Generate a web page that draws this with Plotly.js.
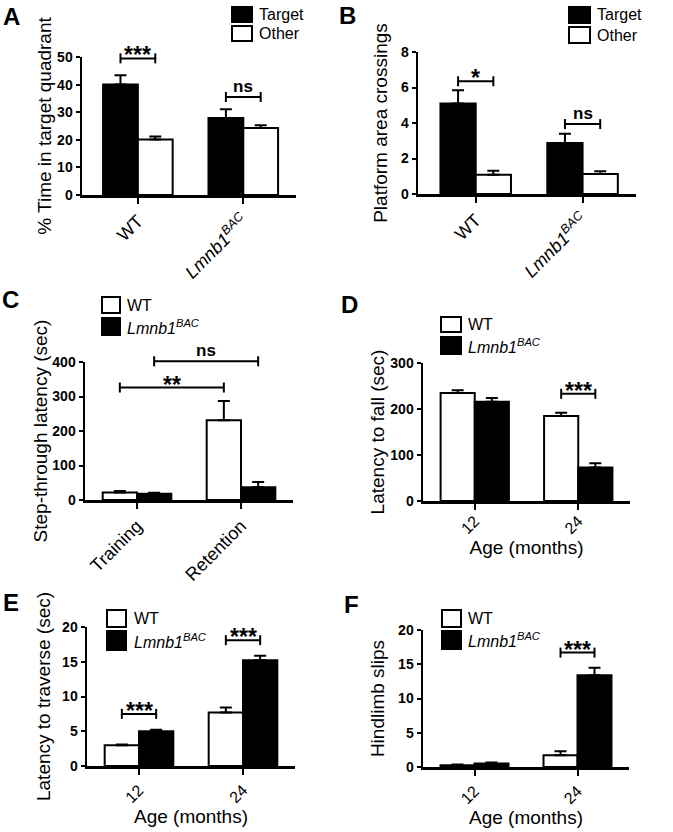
<!DOCTYPE html>
<html><head><meta charset="utf-8">
<script src="https://cdn.plot.ly/plotly-3.0.1.min.js"></script>
<style>html,body{margin:0;padding:0;background:#fff}</style>
</head><body><div id="chart" style="width:673px;height:832px"></div>
<script>
// ---------------- DATA ----------------
// Panel A: % time in target quadrant
const catsA = ['WT', '<i>Lmnb1<sup>BAC</sup></i>'];
const targetA = [40.0, 27.9];
const targetA_sem = [3.4, 3.2];
const otherA = [20.1, 24.3];
const otherA_sem = [1.1, 1.0];
// Panel B: platform area crossings
const catsB = ['WT', '<i>Lmnb1<sup>BAC</sup></i>'];
const targetB = [5.1, 2.87];
const targetB_sem = [0.75, 0.52];
const otherB = [1.08, 1.13];
const otherB_sem = [0.23, 0.15];
// Panel C: step-through latency
const catsC = ['Training', 'Retention'];
const wtC = [22, 231];
const wtC_sem = [4, 56];
const bacC = [18, 37];
const bacC_sem = [3, 15];
// Panel D: latency to fall
const ageCats = ['12', '24'];
const wtD = [235, 185];
const wtD_sem = [6, 7];
const bacD = [216, 73];
const bacD_sem = [8, 9];
// Panel E: latency to traverse
const wtE = [3.0, 7.7];
const wtE_sem = [0.1, 0.7];
const bacE = [5.0, 15.2];
const bacE_sem = [0.2, 0.65];
// Panel F: hindlimb slips
const wtF = [0.25, 1.7];
const wtF_sem = [0.1, 0.6];
const bacF = [0.5, 13.4];
const bacF_sem = [0.15, 1.1];
// significance brackets: [fromCategory, fromSeries, toCategory, toSeries, level, label]
const sigA = [[0, 0, 0, 1, 49.5, '***'], [1, 0, 1, 1, 35.5, 'ns']];
const sigB = [[0, 0, 0, 1, 6.35, '*'], [1, 0, 1, 1, 3.94, 'ns']];
const sigC = [[0, 0, 1, 0, 326, '**'], [0, 1, 1, 1, 402, 'ns']];
const sigD = [[1, 0, 1, 1, 233, '***']];
const sigE = [[0, 0, 0, 1, 7.5, '***'], [1, 0, 1, 1, 18.1, '***']];
const sigF = [[1, 0, 1, 1, 16.7, '***']];
// legend labels
const legTargetOther = ['Target', 'Other'];
const legGenotype = ['WT', '<i>Lmnb1<sup>BAC</sup></i>'];
const panelLetters = ['A', 'B', 'C', 'D', 'E', 'F'];

// ---------------- LAYOUT HELPERS ----------------
const W = 673, H = 832;
const FONT = 'Liberation Sans, Arial, Helvetica, sans-serif';
const px = x => x / W;
const py = y => 1 - y / H;
const BARGAP = 0.34;
const OFF = (1 - BARGAP) / 4; // centre offset of each bar within its group

const panels = [
  {id: '', cats: catsA, s: [[targetA, targetA_sem, 'black'], [otherA, otherA_sem, 'white']],
   dom: [82, 296, 57, 195], xr: [-0.53, 1.5], yr: [0, 50], dt: 10, ytitle: '% Time in target quadrant', so: 1, xtitle: '', xfs: 18, tls: 0, sig: sigA,
   leg: {labels: legTargetOther, fills: ['black', 'white'], box: [232, 252, 7, 22, 26, 41], tx: 257}, letter: [1, 1.5]},
  {id: '2', cats: catsB, s: [[targetB, targetB_sem, 'black'], [otherB, otherB_sem, 'white']],
   dom: [418, 636, 52, 194], xr: [-0.54, 1.5], yr: [0, 8], dt: 2, ytitle: 'Platform area crossings', so: 9, xtitle: '', xfs: 18, tls: 0, sig: sigB,
   leg: {labels: legTargetOther, fills: ['black', 'white'], box: [569, 590, 7, 23, 27, 43], tx: 595}, letter: [337, 0]},
  {id: '3', cats: catsC, s: [[wtC, wtC_sem, 'white'], [bacC, bacC_sem, 'black']],
   dom: [85, 293, 362, 500], xr: [-0.5, 1.5], yr: [0, 400], dt: 100, ytitle: 'Step-through latency (sec)', so: 0, xtitle: '', xfs: 18, tls: 0, sig: sigC,
   leg: {labels: legGenotype, fills: ['white', 'black'], box: [102, 120, 297, 313, 318, 335], tx: 125}, letter: [0, 284]},
  {id: '4', cats: ageCats, s: [[wtD, wtD_sem, 'white'], [bacD, bacD_sem, 'black']],
   dom: [423, 630, 363, 501], xr: [-0.5, 1.5], yr: [0, 300], dt: 100, ytitle: 'Latency to fall (sec)', so: 1, xtitle: 'Age (months)', xso: 0, xfs: 16, tls: -4, sig: sigD,
   leg: {labels: legGenotype, fills: ['white', 'black'], box: [441, 461, 317, 332, 337, 354], tx: 466}, letter: [339, 289]},
  {id: '5', cats: ageCats, s: [[wtE, wtE_sem, 'white'], [bacE, bacE_sem, 'black']],
   dom: [87, 295, 627, 766], xr: [-0.5, 1.5], yr: [0, 20], dt: 5, ytitle: 'Latency to traverse (sec)', so: 7, xtitle: 'Age (months)', xso: 3, xfs: 16, tls: 0, sig: sigE,
   leg: {labels: legGenotype, fills: ['white', 'black'], box: [107, 126, 610, 627, 631, 650], tx: 132}, letter: [1, 587]},
  {id: '6', cats: ageCats, s: [[wtF, wtF_sem, 'white'], [bacF, bacF_sem, 'black']],
   dom: [423, 629, 630, 767], xr: [-0.5, 1.5], yr: [0, 20], dt: 5, ytitle: 'Hindlimb slips', so: 9, xtitle: 'Age (months)', xso: 3, xfs: 16, tls: 0, sig: sigF,
   leg: {labels: legGenotype, fills: ['white', 'black'], box: [442, 461, 610, 627, 631, 649], tx: 466}, letter: [342, 589]}
];

const data = [];
const layout = {
  width: W, height: H, margin: {l: 0, r: 0, t: 0, b: 0},
  paper_bgcolor: 'white', plot_bgcolor: 'white',
  barmode: 'group', bargap: BARGAP, bargroupgap: 0,
  showlegend: false, font: {family: FONT, color: 'black'},
  shapes: [], annotations: []
};

panels.forEach((p, i) => {
  const xa = 'x' + p.id, ya = 'y' + p.id;
  p.s.forEach(([vals, sem, fill]) => {
    data.push({
      type: 'bar', x: p.cats, y: vals, xaxis: xa, yaxis: ya,
      marker: {color: fill, line: {color: 'black', width: 2}},
      error_y: {type: 'data', array: sem, arrayminus: sem.map(() => 0), symmetric: false,
                color: 'black', thickness: 2, width: 6},
      hoverinfo: 'skip'
    });
  });
  const [x0, x1, yt, yb] = p.dom;
  const xax = {
    domain: [px(x0), px(x1)], anchor: ya, type: 'category', range: p.xr,
    showline: true, linecolor: 'black', linewidth: 2.5, showgrid: false, zeroline: false,
    ticks: 'outside', ticklen: 6, tickwidth: 2, tickcolor: 'black', ticklabelstandoff: p.tls,
    tickangle: -45, tickfont: {family: FONT, size: p.xfs, color: 'black'},
    automargin: false, fixedrange: true
  };
  if (p.xtitle) xax.title = {text: p.xtitle, font: {family: FONT, size: 19, color: 'black'}, standoff: p.xso};
  layout['xaxis' + p.id] = xax;
  layout['yaxis' + p.id] = {
    domain: [py(yb), py(yt)], anchor: xa, range: p.yr, dtick: p.dt, tick0: 0,
    showline: true, linecolor: 'black', linewidth: 2.5, showgrid: false, zeroline: false,
    ticks: 'outside', ticklen: 4, tickwidth: 2, tickcolor: 'black',
    tickfont: {family: FONT, size: 14, color: 'black', weight: 'bold'},
    automargin: false, fixedrange: true,
    title: {text: p.ytitle, font: {family: FONT, size: 19, color: 'black'}, standoff: p.so}
  };
  // significance brackets (domain-referenced in y so they may rise above the axis top)
  const yd = ya + ' domain';
  const toDom = v => (v - p.yr[0]) / (p.yr[1] - p.yr[0]);
  p.sig.forEach(([c0, s0, c1, s1, lvl, lab]) => {
    const bx0 = c0 + (s0 === 0 ? -OFF : OFF);
    const bx1 = c1 + (s1 === 0 ? -OFF : OFF);
    const yy = toDom(lvl);
    layout.shapes.push({type: 'line', xref: xa, yref: yd, x0: bx0, x1: bx1, y0: yy, y1: yy,
                        line: {color: 'black', width: 2}});
    [bx0, bx1].forEach(bx => layout.shapes.push({
      type: 'line', xref: xa, yref: yd, x0: bx, x1: bx, ysizemode: 'pixel', yanchor: yy,
      y0: -5, y1: 5, line: {color: 'black', width: 2}}));
    const isStar = lab.indexOf('*') >= 0;
    layout.annotations.push({xref: xa, yref: yd, x: (bx0 + bx1) / 2, y: yy, text: lab,
      showarrow: false, xanchor: 'center', yanchor: 'bottom', yshift: isStar ? -12 : -1,
      font: {family: FONT, size: isStar ? 23 : 17, color: 'black', weight: 'bold'}});
  });
  // custom legend
  const L = p.leg, b = L.box;
  [[b[2], b[3]], [b[4], b[5]]].forEach(([t, btm], k) => {
    layout.shapes.push({type: 'rect', xref: 'paper', yref: 'paper',
      x0: px(b[0]), x1: px(b[1]), y0: py(btm), y1: py(t),
      fillcolor: L.fills[k], line: {color: 'black', width: 2}});
    layout.annotations.push({xref: 'paper', yref: 'paper', x: px(L.tx), y: py((t + btm) / 2),
      text: L.labels[k], showarrow: false, xanchor: 'left', yanchor: 'middle',
      font: {family: FONT, size: 16, color: 'black'}});
  });
  // panel letter
  layout.annotations.push({xref: 'paper', yref: 'paper', x: px(p.letter[0]), y: py(p.letter[1]),
    text: '<b>' + panelLetters[i] + '</b>', showarrow: false, xanchor: 'left', yanchor: 'top',
    font: {family: FONT, size: 24, color: 'black', weight: 'bold'}});
});

Plotly.newPlot('chart', data, layout, {staticPlot: true, displayModeBar: false});
</script>
</body></html>
